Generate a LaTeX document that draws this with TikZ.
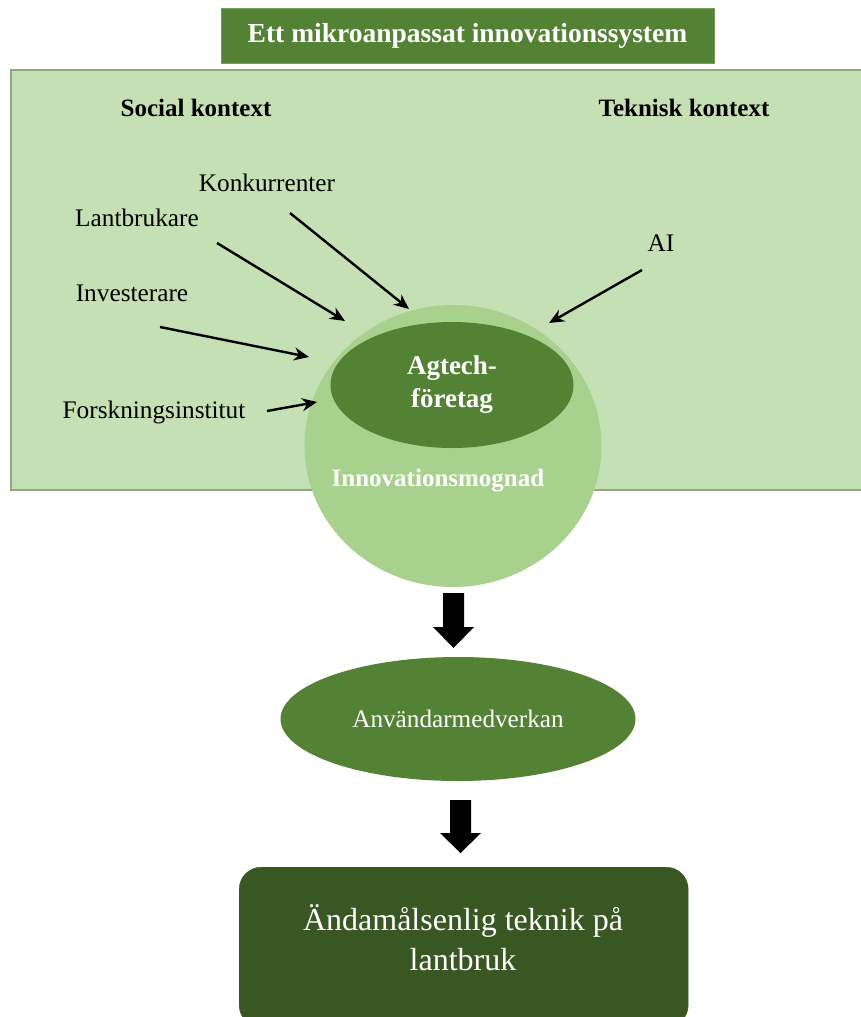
\documentclass[tikz,border=0pt]{standalone}
\usepackage{fontspec}
\setmainfont{Liberation Serif}
\usetikzlibrary{shapes.geometric,arrows.meta}
\definecolor{gdark}{HTML}{548235}
\definecolor{gdeep}{HTML}{385723}
\definecolor{glight}{HTML}{C5E0B4}
\definecolor{gmid}{HTML}{A9D18E}
\definecolor{gborder}{HTML}{8DA97E}
\tikzset{
  lbl/.style={font=\fontsize{25.3}{29}\selectfont, inner sep=0pt},
  ctx/.style={font=\fontsize{25}{29}\selectfont\bfseries, inner sep=0pt},
  inflow/.style={line width=2.4pt, -{Stealth[length=15pt,width=13pt]}},
  blockarrow/.style={fill=black},
}
\begin{document}
\begin{tikzpicture}[x=1pt,y=-1pt]
\useasboundingbox (0,0) rectangle (861,1017);
% context rectangle
\node[draw=gborder, line width=2pt, fill=glight, minimum width=870pt, minimum height=420pt, anchor=north west, inner sep=0pt] (ctxbox) at (10,69) {};
% title
\node[draw=gdark!80!white, line width=1pt, fill=gdark, minimum width=493pt, minimum height=55pt, text=white, font=\fontsize{27.5}{32}\selectfont\bfseries] (title) at (467.5,35.5) {Ett mikroanpassat innovationssystem};
\node[ctx] (social) at (196,108) {Social kontext};
\node[ctx] (teknisk) at (684,108) {Teknisk kontext};
% circle
\node[ellipse, fill=gmid, minimum width=297pt, minimum height=282pt, inner sep=0pt] (mognad) at (453,446) {};
\node[ellipse, fill=gdark, minimum width=243pt, minimum height=126pt, inner sep=0pt, text=white, align=center, font=\fontsize{27}{33}\selectfont\bfseries] (agtech) at (452,385) {Agtech-\\företag};
\node[text=white, font=\fontsize{25}{30}\selectfont\bfseries, inner sep=0pt] (mognadtxt) at (438,481) {Innovationsmognad};
% labels
\node[lbl] (konk) at (267,183) {Konkurrenter};
\node[lbl] (lant) at (137,218) {Lantbrukare};
\node[lbl] (inv) at (132,293) {Investerare};
\node[lbl] (forsk) at (154,412) {Forskningsinstitut};
\node[lbl] (ai) at (661,243) {AI};
% arrow coordinates
\coordinate (konkS) at (290,213);
\coordinate (konkE) at (409,309);
\coordinate (lantS) at (217,243);
\coordinate (lantE) at (345,321);
\coordinate (invS) at (160,327);
\coordinate (invE) at (309,357);
\coordinate (forskS) at (267,411);
\coordinate (forskE) at (317,402);
\coordinate (aiS) at (642,270);
\coordinate (aiE) at (549,323);
\draw[inflow] (konkS) -- (konkE);
\draw[inflow] (lantS) -- (lantE);
\draw[inflow] (invS) -- (invE);
\draw[inflow] (forskS) -- (forskE);
\draw[inflow] (aiS) -- (aiE);
% user involvement
\node[ellipse, fill=gdark, minimum width=355pt, minimum height=124pt, inner sep=0pt, text=white, font=\fontsize{25.2}{29}\selectfont] (anv) at (458,719) {Användarmedverkan};
% result
\node[draw=gdeep, fill=gdeep, rounded corners=22pt, minimum width=449pt, minimum height=160pt, anchor=north west, inner sep=0pt] (resbox) at (239,867) {};
\node[text=white, align=center, font=\fontsize{32}{40}\selectfont, inner sep=0pt] (restxt) at (463,938) {Ändamålsenlig teknik på\\lantbruk};
% block arrows
\fill[blockarrow] (443,593) -- (464,593) -- (464,627) -- (474,627) -- (453.5,648) -- (433,627) -- (443,627) -- cycle;
\fill[blockarrow] (450,800) -- (471,800) -- (471,833) -- (481,833) -- (460.5,853) -- (440,833) -- (450,833) -- cycle;
\end{tikzpicture}
\end{document}
